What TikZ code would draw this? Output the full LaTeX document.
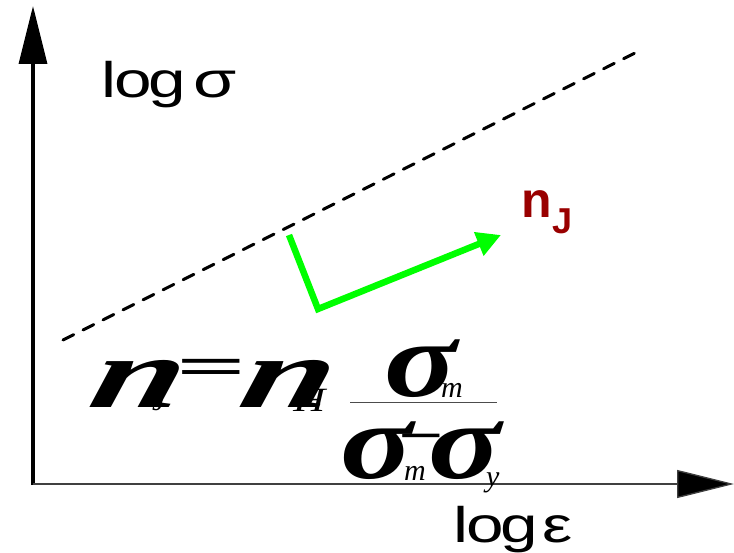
\documentclass[tikz,border=0pt]{standalone}
\usepackage{fontspec}
\setmainfont{Liberation Sans}
\newfontfamily\tnr{Liberation Serif}
\usetikzlibrary{arrows.meta}
\definecolor{darkred}{HTML}{990000}
\definecolor{brightgreen}{HTML}{00FF00}
\begin{document}
\begin{tikzpicture}[x=1pt,y=-1pt,
  axisline/.style={black},
  lbl/.style={inner sep=0pt, anchor=base west},
  eqn/.style={inner sep=0pt, anchor=base west, font=\tnr\bfseries\itshape},
  bigsig/.style={eqn, font=\tnr\bfseries\itshape\fontsize{108}{108}\selectfont, xscale=1.25}]
\useasboundingbox (0,0) rectangle (734,553);
% axes
\coordinate (O) at (33,485);
\coordinate (ytip) at (33,6);
\coordinate (xtip) at (734,484);
\coordinate (xo) at (33,484);
\draw[axisline, line width=3.5pt, -{Triangle[length=58pt,width=28pt]}] (O) -- (ytip);
\draw[axisline, line width=1.3pt, draw=black!75, -{Triangle[length=57pt,width=28pt,fill=black]}] (xo) -- (xtip);
% dashed line
\coordinate (d1) at (63,340);
\coordinate (d2) at (637,52);
\draw[line width=3pt, line cap=round, dash pattern=on 12pt off 10.4pt] (d1) -- (d2);
% green arrow
\coordinate (g1) at (289,235);
\coordinate (g2) at (318,309);
\coordinate (g3) at (501,235);
\draw[brightgreen, line width=6.5pt, -{Triangle[length=24pt,width=24pt]}] (g1) -- (g2) -- (g3);
% labels
\node[lbl, font=\fontsize{50}{50}\selectfont, xscale=1.35] (logs) at (101,98) {l\kern-1pt o\kern-3pt g};
\node[lbl, font=\fontsize{50}{50}\selectfont, xscale=1.4] (sig) at (193,98) {σ};
\node[lbl, font=\fontsize{50}{50}\selectfont, xscale=1.35] (loge) at (453,542) {l\kern-1pt o\kern-3pt g};
\node[lbl, font=\fontsize{50}{50}\selectfont, xscale=1.35] (eps) at (542,542) {ε};
\node[lbl, font=\fontsize{50}{50}\selectfont\bfseries, text=darkred] (nJ) at (521,218) {n};
\node[lbl, font=\fontsize{36}{36}\selectfont\bfseries, text=darkred] (nJs) at (552,234) {J};
% formula
\node[eqn, font=\tnr\bfseries\itshape\fontsize{100}{100}\selectfont, xscale=1.65, xslant=0.15] (n1) at (86,407) {n};
\node[eqn, font=\tnr\itshape\fontsize{30}{30}\selectfont] (J1) at (152,410) {J};
\node[eqn, font=\tnr\bfseries\fontsize{56}{56}\selectfont, xscale=2.2] (eq) at (176,386) {=};
\node[eqn, font=\tnr\bfseries\itshape\fontsize{100}{100}\selectfont, xscale=1.65, xslant=0.15] (n2) at (236,407) {n};
\node[eqn, font=\tnr\itshape\fontsize{34}{34}\selectfont, xscale=1.3] (H) at (293,412) {H};
\node[bigsig] (s1) at (384,397) {σ};
\node[eqn, font=\tnr\itshape\fontsize{30}{30}\selectfont] (m1) at (441,398) {m};
\coordinate (f1) at (350,403);
\coordinate (f2) at (497,403);
\draw[black!70, line width=1pt] (f1) -- (f2);
\node[bigsig] (s2) at (340,478) {σ};
\node[eqn, font=\tnr\itshape\fontsize{30}{30}\selectfont] (m2) at (404,480) {m};
\node[eqn, font=\tnr\bfseries\fontsize{50}{50}\selectfont, xscale=1.6] (minus) at (398,452) {−};
\node[bigsig] (s3) at (428,478) {σ};
\node[eqn, font=\tnr\itshape\fontsize{30}{30}\selectfont] (y1) at (486,486) {y};
\end{tikzpicture}
\end{document}
